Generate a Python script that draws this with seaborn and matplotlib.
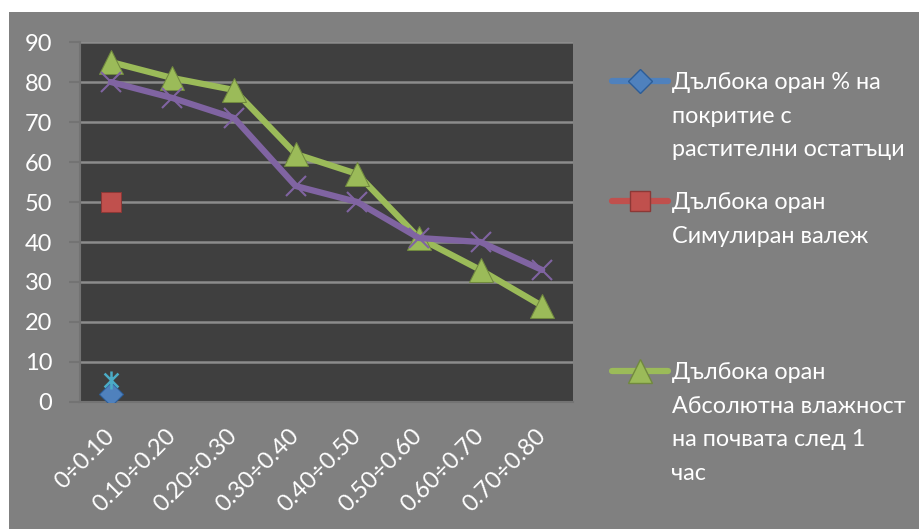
import matplotlib
matplotlib.use("Agg")
import matplotlib.pyplot as plt
from matplotlib.patches import Rectangle
from matplotlib.lines import Line2D
from matplotlib.path import Path
from matplotlib.ticker import FixedLocator
import seaborn as sns

# --- Datos ---
categorias = ['0÷0.10', '0.10÷0.20', '0.20÷0.30', '0.30÷0.40',
              '0.40÷0.50', '0.50÷0.60', '0.60÷0.70', '0.70÷0.80']
pokritie = [2]            # Дълбока оран % на покритие с растителни остатъци
valej = [50]              # Дълбока оран Симулиран валеж
vlajnost = [85, 81, 78, 62, 57, 41, 33, 24]   # Абсолютна влажност след 1 час
serie_4 = [80, 76, 71, 54, 50, 41, 40, 33]
serie_5 = [5.5]

etiquetas = [['Дълбока оран % на', 'покритие с', 'растителни остатъци'],
             ['Дълбока оран', 'Симулиран валеж'],
             ['Дълбока оран', 'Абсолютна влажност', 'на почвата след 1', 'час']]

sns.set_style("dark")
plt.rcParams['font.family'] = ['Lato', 'DejaVu Sans']

gris = '#808080'
fig = plt.figure(figsize=(9.2, 5.29), dpi=100, facecolor='white')
fig.patches.append(Rectangle((9 / 920, 0), 1, 1 - 12 / 529, transform=fig.transFigure,
                             facecolor=gris, edgecolor='none', zorder=-10))
ax = fig.add_axes([80 / 920, 1 - 402 / 529, 493 / 920, 360 / 529])
ax.set_facecolor('#3f3f3f')

azul, rojo, verde, morado, cian = '#4f81bd', '#c0504d', '#9bbb59', '#8064a2', '#4bacc6'

# marcador estrella de Excel: X con una linea vertical
estrella = Path([(-1, -1), (1, 1), (-1, 1), (1, -1), (0, -1.3), (0, 1.3)],
                [Path.MOVETO, Path.LINETO] * 3)

sns.lineplot(x=categorias[:1], y=pokritie, ax=ax, color=azul, marker='D', markersize=12,
             markeredgecolor='#2c5d98', linewidth=4.5, zorder=3)
sns.lineplot(x=categorias[:1], y=valej, ax=ax, color=rojo, marker='s', markersize=15,
             markeredgecolor='#8c3836', linewidth=4.5, zorder=3)
sns.lineplot(x=categorias, y=vlajnost, ax=ax, color=verde, marker='^', markersize=17,
             markeredgecolor='#71893f', linewidth=4.5, zorder=3)
sns.lineplot(x=categorias, y=serie_4, ax=ax, color=morado, marker='x', markersize=15,
             markeredgewidth=1.5, markeredgecolor=morado, linewidth=4.5, zorder=4)
sns.lineplot(x=categorias[:1], y=serie_5, ax=ax, color=cian, marker=estrella, markersize=13,
             markeredgewidth=1.8, markeredgecolor=cian, linewidth=4.5, zorder=5)

ax.set_xlim(-0.5, len(categorias) - 0.5)
ax.set_ylim(0, 90)
ax.set_yticks(range(0, 91, 10))
ax.yaxis.grid(True, color='#8c8c8c', linewidth=1.8)
ax.xaxis.grid(False)
ax.set_axisbelow(True)
ax.set_xlabel('')
ax.set_ylabel('')

for lado in ['top', 'right']:
    ax.spines[lado].set_visible(False)
for lado in ['left', 'bottom']:
    ax.spines[lado].set_color('#737373')
    ax.spines[lado].set_linewidth(1.5)

ax.set_xticks(range(len(categorias)))
ax.set_xticklabels(categorias)
ax.xaxis.set_minor_locator(FixedLocator([i - 0.5 for i in range(len(categorias) + 1)]))
ax.tick_params(axis='x', which='major', length=0, pad=22, labelsize=17, labelcolor='white')
ax.tick_params(axis='x', which='minor', length=6, width=1.5, color='#737373')
ax.tick_params(axis='y', length=8, width=1.5, color='#737373', labelsize=17,
               labelcolor='white', pad=12, left=True)
for t in ax.get_xticklabels():
    t.set_rotation(45)
    t.set_ha('right')
    t.set_va('center')
    t.set_rotation_mode('anchor')

# --- Leyenda (una caja por serie, como en Excel) ---
manijas = [
    Line2D([], [], color=azul, lw=4.5, marker='D', ms=12, mec='#2c5d98'),
    Line2D([], [], color=rojo, lw=4.5, marker='s', ms=15, mec='#8c3836'),
    Line2D([], [], color=verde, lw=4.5, marker='^', ms=17, mec='#71893f'),
]
vacio = Line2D([], [], linestyle='none')
alturas = [82, 202, 372]
for manija, lineas, y in zip(manijas, etiquetas, alturas):
    handles = [manija] + [vacio] * (len(lineas) - 1)
    leg = fig.legend(handles=handles, labels=lineas, loc='upper left',
                     bbox_to_anchor=(612 / 920, 1 - (y - 10) / 529),
                     frameon=False, fontsize=16.8, labelcolor='white',
                     handlelength=2.4, handletextpad=0.15, borderpad=0, borderaxespad=0,
                     labelspacing=0.54)

fig.savefig('out.png', dpi=100, facecolor=fig.get_facecolor())
